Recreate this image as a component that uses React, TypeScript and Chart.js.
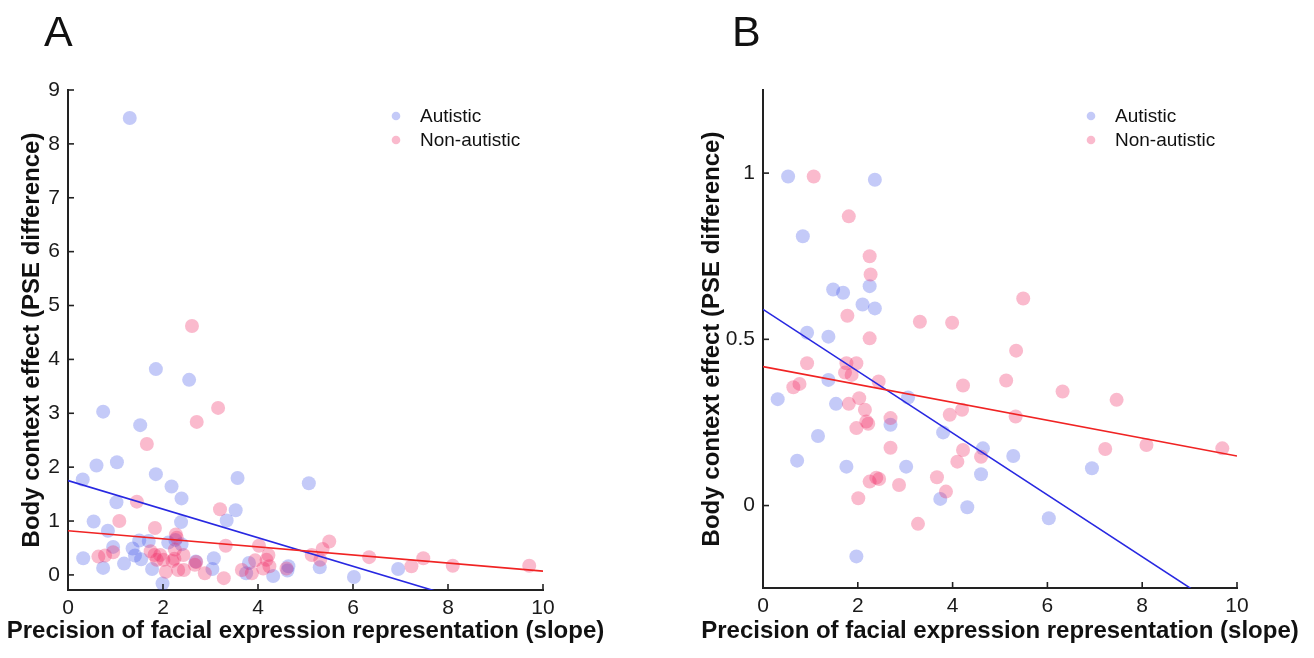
import React, { useEffect, useRef } from "react";
import { Chart, registerables } from "chart.js";

Chart.register(...registerables);

// ---------- tick labels ----------
const xTicks = [0, 2, 4, 6, 8, 10];
const yTicksA = [0, 1, 2, 3, 4, 5, 6, 7, 8, 9];
const yTicksB = [0, 0.5, 1];

// ---------- Panel A data: [precision slope, body context effect] ----------
const autisticA: number[][] = [
  [0.31, 1.77], [0.6, 2.03], [0.74, 3.03], [1.03, 2.09], [1.52, 2.78], [1.85, 1.87],
  [1.85, 3.82], [2.55, 3.62], [1.3, 8.48], [2.18, 1.64], [2.39, 1.42], [1.02, 1.35],
  [0.54, 0.99], [0.84, 0.82], [2.38, 0.98], [3.34, 1.01], [3.53, 1.2], [3.57, 1.8],
  [5.07, 1.7], [0.32, 0.31], [0.74, 0.13], [0.95, 0.52], [1.18, 0.21], [1.36, 0.49],
  [1.41, 0.36], [1.54, 0.29], [1.5, 0.64], [1.7, 0.63], [1.77, 0.11], [1.99, -0.16],
  [2.11, 0.6], [2.26, 0.65], [2.39, 0.57], [2.69, 0.25], [3.07, 0.31], [3.04, 0.11],
  [3.81, 0.22], [3.75, 0.03], [4.32, -0.02], [4.64, 0.16], [4.62, 0.08], [5.3, 0.14],
  [6.02, -0.04], [6.95, 0.11],
];
const nonAutisticA: number[][] = [
  [0.64, 0.34], [0.78, 0.36], [0.95, 0.42], [1.08, 1.0], [1.45, 1.36], [1.66, 2.43],
  [1.74, 0.44], [1.82, 0.37], [1.83, 0.87], [1.87, 0.28], [1.94, 0.37], [2.01, 0.28],
  [2.06, 0.06], [2.2, 0.26], [2.24, 0.3], [2.27, 0.75], [2.29, 0.69], [2.25, 0.47],
  [2.43, 0.37], [2.44, 0.09], [2.32, 0.09], [2.61, 4.62], [2.67, 0.19], [2.7, 0.24],
  [2.71, 2.84], [2.88, 0.03], [3.16, 3.1], [3.2, 1.22], [3.28, -0.06], [3.32, 0.54],
  [3.66, 0.09], [3.87, 0.03], [3.94, 0.27], [4.02, 0.54], [4.11, 0.12], [4.18, 0.28],
  [4.22, 0.37], [4.24, 0.16], [4.6, 0.12], [5.13, 0.37], [5.31, 0.28], [5.36, 0.48],
  [5.5, 0.62], [6.34, 0.33], [7.23, 0.16], [7.48, 0.31], [8.1, 0.17], [9.71, 0.17],
];
// regression line end points [x, y]
const fitAutisticA: number[][] = [[0, 1.75], [10, -0.9]];
const fitNonAutisticA: number[][] = [[0, 0.82], [10, 0.07]];

// ---------- Panel B data ----------
const autisticB: number[][] = [
  [0.53, 0.99], [2.36, 0.98], [0.84, 0.81], [1.48, 0.65], [1.69, 0.64], [2.25, 0.66],
  [2.1, 0.605], [2.36, 0.593], [0.93, 0.52], [1.38, 0.508], [0.31, 0.32], [1.38, 0.378],
  [1.54, 0.306], [1.16, 0.209], [0.72, 0.135], [1.76, 0.117], [1.97, -0.153], [2.69, 0.243],
  [3.06, 0.325], [3.02, 0.117], [3.8, 0.22], [3.74, 0.02], [4.31, -0.005], [4.64, 0.172],
  [4.6, 0.094], [5.28, 0.149], [6.94, 0.112], [6.03, -0.038],
];
const nonAutisticB: number[][] = [
  [1.07, 0.99], [1.81, 0.87], [2.25, 0.75], [2.27, 0.695], [1.78, 0.571], [3.31, 0.553],
  [3.99, 0.55], [2.25, 0.503], [0.93, 0.428], [0.64, 0.356], [0.77, 0.366], [1.76, 0.428],
  [1.97, 0.428], [1.73, 0.4], [1.87, 0.393], [2.44, 0.373], [2.03, 0.323], [1.81, 0.306],
  [2.15, 0.288], [2.18, 0.253], [2.22, 0.246], [1.97, 0.233], [2.69, 0.263], [2.69, 0.174],
  [2.25, 0.072], [2.39, 0.084], [2.45, 0.08], [2.87, 0.062], [2.01, 0.022], [3.27, -0.055],
  [3.67, 0.085], [3.86, 0.042], [3.94, 0.273], [4.2, 0.288], [4.22, 0.361], [4.1, 0.132],
  [4.22, 0.167], [4.6, 0.147], [5.49, 0.623], [5.34, 0.466], [5.13, 0.376], [6.32, 0.343],
  [7.46, 0.318], [5.33, 0.268], [7.22, 0.17], [8.09, 0.182], [9.69, 0.172],
];
const fitAutisticB: number[][] = [[0, 0.59], [10, -0.34]];
const fitNonAutisticB: number[][] = [[0, 0.418], [10, 0.149]];

const seriesLabels = ["Autistic", "Non-autistic"];
const xTitle = "Precision of facial expression representation (slope)";
const yTitle = "Body context effect (PSE difference)";

// ---------- styling ----------
const FONT = "'Liberation Sans', Arial, Helvetica, sans-serif";
const BLUE_PT = "rgba(60,80,232,0.3)";
const PINK_PT = "rgba(240,40,100,0.32)";
const BLUE_LINE = "rgb(40,40,225)";
const RED_LINE = "rgb(240,35,35)";
const AXIS = "#222";

const toXY = (arr: number[][]) => arr.map(([x, y]) => ({ x, y }));

const inwardTicks = {
  id: "inwardTicks",
  afterDraw(chart: any) {
    const { ctx, chartArea, scales } = chart;
    ctx.save();
    ctx.strokeStyle = AXIS;
    ctx.lineWidth = 1.6;
    const len = 6;
    scales.x.ticks.forEach((t: any) => {
      const px = scales.x.getPixelForValue(t.value);
      ctx.beginPath();
      ctx.moveTo(px, chartArea.bottom);
      ctx.lineTo(px, chartArea.bottom - len);
      ctx.stroke();
    });
    scales.y.ticks.forEach((t: any) => {
      const py = scales.y.getPixelForValue(t.value);
      ctx.beginPath();
      ctx.moveTo(chartArea.left, py);
      ctx.lineTo(chartArea.left + len, py);
      ctx.stroke();
    });
    // x-axis title (drawn without width squeezing)
    ctx.font = `bold 24px ${FONT}`;
    ctx.fillStyle = "#111";
    ctx.textAlign = "center";
    ctx.textBaseline = "middle";
    ctx.fillText(xTitle, (chartArea.left + chartArea.right) / 2, chart.height - 27);
    ctx.restore();
  },
};

const innerLegend = {
  id: "innerLegend",
  afterDraw(chart: any) {
    const { ctx, chartArea } = chart;
    const ds = chart.data.datasets.filter((d: any) => d.type === "scatter");
    ctx.save();
    ctx.font = `19px ${FONT}`;
    ctx.textBaseline = "middle";
    ds.forEach((d: any, i: number) => {
      const cx = chartArea.left + 328;
      const cy = chartArea.top + 26 + i * 24;
      ctx.beginPath();
      ctx.fillStyle = d.backgroundColor;
      ctx.arc(cx, cy, 4.3, 0, Math.PI * 2);
      ctx.fill();
      ctx.fillStyle = "#111";
      ctx.fillText(d.label, cx + 24, cy + 1);
    });
    ctx.restore();
  },
};

interface PanelProps {
  autistic: number[][];
  nonAutistic: number[][];
  fitA: number[][];
  fitN: number[][];
  yMin: number;
  yMax: number;
  yTicks: number[];
  width: number;
  yAxisWidth: number;
  rightPad: number;
  xAxisHeight: number;
  yTitlePad: number;
}

function Panel(p: PanelProps) {
  const ref = useRef<HTMLCanvasElement | null>(null);
  useEffect(() => {
    if (!ref.current) return;
    const tickFont = { family: FONT, size: 21 };
    const titleFont = { family: FONT, size: 24, weight: "bold" as const };
    const chart = new Chart(ref.current, {
      type: "scatter",
      data: {
        datasets: [
          {
            type: "scatter",
            label: seriesLabels[0],
            data: toXY(p.autistic),
            backgroundColor: BLUE_PT,
            borderWidth: 0,
            pointRadius: 7,
            clip: 0,
            order: 3,
          } as any,
          {
            type: "scatter",
            label: seriesLabels[1],
            data: toXY(p.nonAutistic),
            backgroundColor: PINK_PT,
            borderWidth: 0,
            pointRadius: 7,
            clip: 0,
            order: 2,
          } as any,
          {
            type: "line",
            label: "fitA",
            data: toXY(p.fitA),
            borderColor: BLUE_LINE,
            borderWidth: 1.6,
            pointRadius: 0,
            fill: false,
            clip: 0,
            order: 1,
          } as any,
          {
            type: "line",
            label: "fitN",
            data: toXY(p.fitN),
            borderColor: RED_LINE,
            borderWidth: 1.6,
            pointRadius: 0,
            fill: false,
            clip: 0,
            order: 0,
          } as any,
        ],
      },
      options: {
        animation: false,
        responsive: false,
        events: [],
        layout: { padding: { top: 90, right: p.rightPad, left: 0, bottom: 0 } },
        plugins: { legend: { display: false }, tooltip: { enabled: false } },
        scales: {
          x: {
            type: "linear",
            min: 0,
            max: 10,
            afterBuildTicks: (s: any) => {
              s.ticks = xTicks.map((v) => ({ value: v }));
            },
            afterFit: (s: any) => {
              s.height = p.xAxisHeight;
            },
            ticks: { font: tickFont, color: "#1a1a1a", padding: 6, maxRotation: 0 },
            grid: { display: false, drawTicks: false },
            border: { display: true, color: AXIS, width: 2 },
          },
          y: {
            type: "linear",
            min: p.yMin,
            max: p.yMax,
            afterBuildTicks: (s: any) => {
              s.ticks = p.yTicks.map((v) => ({ value: v }));
            },
            afterFit: (s: any) => {
              s.width = p.yAxisWidth;
            },
            ticks: {
              font: tickFont,
              color: "#1a1a1a",
              padding: 8,
              callback: (v: any) => String(v),
            },
            grid: { display: false, drawTicks: false },
            border: { display: true, color: AXIS, width: 2 },
            title: {
              display: true,
              text: yTitle,
              font: titleFont,
              color: "#111",
              padding: { top: p.yTitlePad, bottom: 0 },
            },
          },
        },
      } as any,
      plugins: [inwardTicks, innerLegend],
    });
    return () => chart.destroy();
  }, []);
  return <canvas ref={ref} width={p.width} height={658} style={{ display: "block" }} />;
}

const panelLetter: React.CSSProperties = {
  position: "absolute",
  top: 10,
  fontFamily: FONT,
  fontSize: 43,
  lineHeight: 1,
  color: "#111",
};

export default function App() {
  return (
    <div
      style={{
        position: "absolute",
        left: 0,
        top: 0,
        width: 1314,
        height: 658,
        overflow: "hidden",
        background: "#fff",
      }}
    >
      <div style={{ position: "absolute", left: 0, top: 0 }}>
        <Panel
          autistic={autisticA}
          nonAutistic={nonAutisticA}
          fitA={fitAutisticA}
          fitN={fitNonAutisticA}
          yMin={-0.28}
          yMax={9}
          yTicks={yTicksA}
          width={650}
          yAxisWidth={68}
          rightPad={107}
          xAxisHeight={68}
          yTitlePad={18}
        />
      </div>
      <div style={{ position: "absolute", left: 650, top: 0 }}>
        <Panel
          autistic={autisticB}
          nonAutistic={nonAutisticB}
          fitA={fitAutisticB}
          fitN={fitNonAutisticB}
          yMin={-0.248}
          yMax={1.25}
          yTicks={yTicksB}
          width={664}
          yAxisWidth={113}
          rightPad={77}
          xAxisHeight={70}
          yTitlePad={48}
        />
      </div>
      <div style={{ ...panelLetter, left: 44 }}>A</div>
      <div style={{ ...panelLetter, left: 732 }}>B</div>
    </div>
  );
}
